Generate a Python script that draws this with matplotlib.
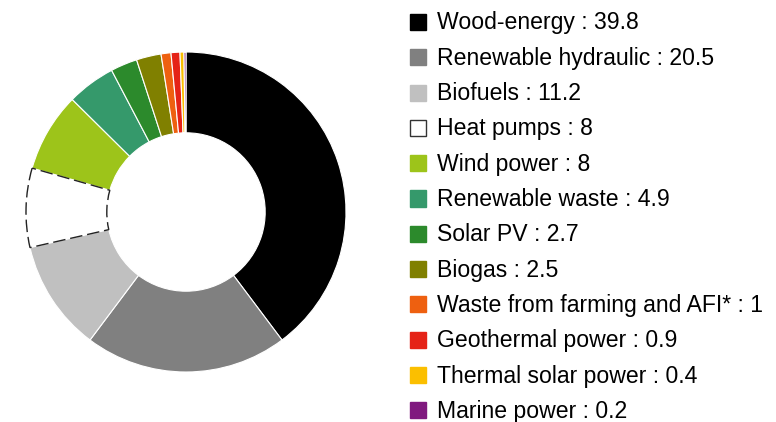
import matplotlib.pyplot as plt
from matplotlib.patches import Rectangle

plt.rcParams['font.family'] = ['Liberation Sans', 'DejaVu Sans']

labels = ['Wood-energy', 'Renewable hydraulic', 'Biofuels', 'Heat pumps',
          'Wind power', 'Renewable waste', 'Solar PV', 'Biogas',
          'Waste from farming and AFI*', 'Geothermal power',
          'Thermal solar power', 'Marine power']
values = [39.8, 20.5, 11.2, 8, 8, 4.9, 2.7, 2.5, 1, 0.9, 0.4, 0.2]
value_text = ['39.8', '20.5', '11.2', '8', '8', '4.9', '2.7', '2.5', '1', '0.9', '0.4', '0.2']
colors = ['#000000', '#808080', '#c0c0c0', '#ffffff', '#9dc41a', '#35996b',
          '#2c8a2c', '#808000', '#ee6010', '#e52317', '#fbbf00', '#80197f']

W, H = 776, 422
fig = plt.figure(figsize=(W / 100, H / 100), dpi=100)

# donut
cx, cy, r = 186, 212, 160
ax = fig.add_axes([(cx - r) / W, 1 - (cy + r) / H, 2 * r / W, 2 * r / H])
wedges, _ = ax.pie(values, colors=colors, startangle=90, counterclock=False,
                   wedgeprops=dict(width=0.505, edgecolor='white', linewidth=0.8))
# heat pumps slice: white with dashed outline
hp = wedges[labels.index('Heat pumps')]
hp.set_edgecolor('#222222')
hp.set_linestyle((0, (9, 3.5)))
hp.set_linewidth(1.0)
hp.set_zorder(3)
ax.set_xlim(-1, 1)
ax.set_ylim(-1, 1)
ax.axis('off')

# legend
x_sq, x_txt = 410, 437
y0, dy = 22, 35.3
for i, lab in enumerate(labels):
    y = y0 + i * dy
    ec = '#333333' if colors[i] == '#ffffff' else colors[i]
    fig.patches.append(Rectangle((x_sq / W, 1 - (y + 8) / H), 16 / W, 16 / H,
                                 transform=fig.transFigure, facecolor=colors[i],
                                 edgecolor=ec, linewidth=1))
    fig.text(x_txt / W, 1 - (y + 1) / H, f'{lab} : {value_text[i]}', fontsize=16.6,
             va='center', ha='left', color='#000000')

fig.savefig('out.png', dpi=100)
